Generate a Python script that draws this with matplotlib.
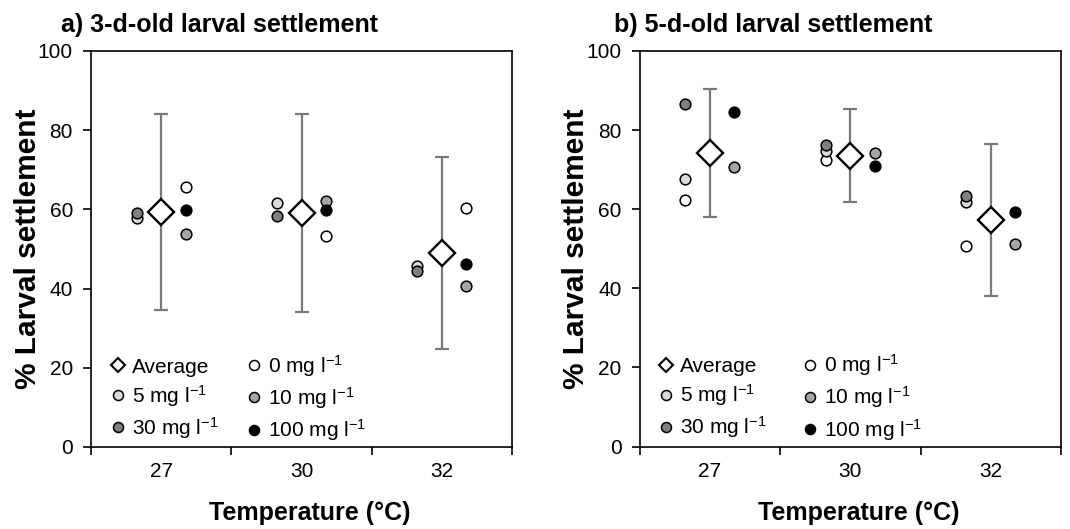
import matplotlib
matplotlib.use("Agg")
import matplotlib.pyplot as plt
from matplotlib.lines import Line2D
import numpy as np

plt.rcParams['font.family'] = ['Liberation Sans', 'DejaVu Sans']
plt.rcParams['mathtext.fontset'] = 'custom'
plt.rcParams['mathtext.rm'] = 'Liberation Sans'
plt.rcParams['mathtext.it'] = 'Liberation Sans:italic'
plt.rcParams['mathtext.bf'] = 'Liberation Sans:bold'

# ---------------- data ----------------
temperatures = ['27', '30', '32']
concentrations = ['0', '5', '10', '30', '100']

# a) 3-d-old larvae
a_average = [59.4, 59.1, 49.0]
a_sd = [24.8, 25.0, 24.3]
a_0 = [65.7, 53.3, 60.3]
a_5 = [57.8, 61.5, 45.7]
a_10 = [53.7, 62.1, 40.6]
a_30 = [59.2, 58.3, 44.4]
a_100 = [59.8, 59.8, 46.1]

# b) 5-d-old larvae
b_average = [74.2, 73.5, 57.3]
b_sd = [16.1, 11.8, 19.2]
b_0 = [62.2, 72.5, 50.8]
b_5 = [67.7, 74.8, 61.8]
b_10 = [70.6, 74.1, 51.2]
b_30 = [86.6, 76.3, 63.3]
b_100 = [84.6, 70.8, 59.4]

# ---------------- styles ----------------
conc_colors = {'0': '#ffffff', '5': '#dadada', '10': '#a6a6a6',
               '30': '#7f7f7f', '100': '#000000'}
# horizontal side of each series (left/right of the average), per panel
a_sides = {'0': 1, '5': -1, '10': 1, '30': -1, '100': 1}
b_sides = {'0': -1, '5': -1, '10': 1, '30': -1, '100': 1}
offset = 0.175

W, H = 1070, 529
fig = plt.figure(figsize=(W / 100, H / 100), dpi=100)
ax1 = fig.add_axes([91 / W, 1 - 447 / H, 421 / W, 396 / H])
ax2 = fig.add_axes([639.5 / W, 1 - 446.5 / H, 421.5 / W, 395.5 / H])

panels = [
    (ax1, 'a) 3-d-old larval settlement', a_average, a_sd,
     {'0': a_0, '5': a_5, '10': a_10, '30': a_30, '100': a_100}, a_sides,
     -0.071, 1.32),
    (ax2, 'b) 5-d-old larval settlement', b_average, b_sd,
     {'0': b_0, '5': b_5, '10': b_10, '30': b_30, '100': b_100}, b_sides,
     -0.061, 1.7),
]

for ax, title, avg, sd, series, sides, tx, colsp in panels:
    x = np.arange(len(temperatures))
    ax.errorbar(x, avg, yerr=sd, fmt='none', ecolor='#7a7a7a',
                elinewidth=1.6, capsize=5, capthick=1.6, zorder=2)
    ax.plot(x, avg, linestyle='none', marker='D', ms=13, mfc='white',
            mec='black', mew=1.7, zorder=4)
    for c in concentrations:
        ax.plot(x + sides[c] * offset, series[c], linestyle='none', marker='o',
                ms=7.7, mfc=conc_colors[c], mec='black', mew=1.1, zorder=3)

    ax.set_xlim(-0.5, len(temperatures) - 0.5)
    ax.set_ylim(0, 100)
    ax.set_yticks([0, 20, 40, 60, 80, 100])
    ax.set_xticks(x)
    ax.set_xticklabels(temperatures)
    ax.set_xticks(np.arange(-0.5, len(temperatures)), minor=True)
    ax.tick_params(axis='x', which='major', length=0, pad=11, labelsize=15)
    ax.tick_params(axis='x', which='minor', length=6, width=1.2, direction='out')
    ax.tick_params(axis='y', length=6, width=1.2, direction='out', pad=7,
                   labelsize=15)
    for s in ax.spines.values():
        s.set_linewidth(1.2)
        s.set_color('black')

    ax.set_ylabel('% Larval settlement', fontsize=21.5, fontweight='bold',
                  va='center')
    ax.yaxis.set_label_coords(-0.150, 0.5)
    ax.set_xlabel('Temperature (°C)', fontsize=18, fontweight='bold',
                  va='center')
    ax.xaxis.set_label_coords(0.52, -0.167)
    ax.set_title(title, fontsize=18, fontweight='bold', loc='left',
                 x=tx, y=1.049, pad=0)

    sup = r'$^{\mathregular{-1}}$'
    handles = [
        Line2D([], [], linestyle='none', marker='D', ms=6.8, mfc='white',
               mec='black', mew=1.5),
        Line2D([], [], linestyle='none', marker='o', ms=7.2, mfc=conc_colors['5'],
               mec='black', mew=1.1),
        Line2D([], [], linestyle='none', marker='o', ms=7.2, mfc=conc_colors['30'],
               mec='black', mew=1.1),
        Line2D([], [], linestyle='none', marker='o', ms=7.2, mfc=conc_colors['0'],
               mec='black', mew=1.1),
        Line2D([], [], linestyle='none', marker='o', ms=7.2, mfc=conc_colors['10'],
               mec='black', mew=1.1),
        Line2D([], [], linestyle='none', marker='o', ms=7.2, mfc=conc_colors['100'],
               mec='black', mew=1.1),
    ]
    labels = ['Average', '5 mg l' + sup, '30 mg l' + sup,
              '0 mg l' + sup, '10 mg l' + sup, '100 mg l' + sup]
    ax.legend(handles, labels, ncol=2, loc='lower left',
              bbox_to_anchor=(0.045, 0.01), frameon=False, fontsize=15,
              handlelength=0.75, handletextpad=0.3, columnspacing=colsp,
              labelspacing=0.3, borderpad=0, borderaxespad=0)

fig.savefig('out.png', dpi=100)
